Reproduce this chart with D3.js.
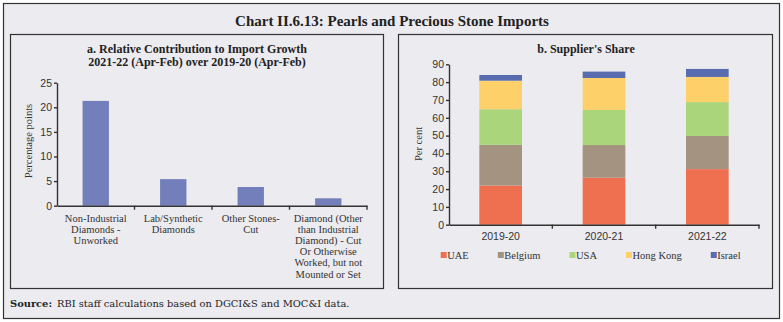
<!DOCTYPE html>
<html>
<head>
<meta charset="utf-8">
<script src="https://cdn.jsdelivr.net/npm/d3@7"></script>
<style>
    body { margin: 0; background: #fff; }
    svg { display: block; font-family: 'Liberation Serif', 'Times New Roman', serif; }
    .tick text { fill: #333; font-size: 10.5px; }
    .axis .domain, .axis .tick line { stroke: #333; stroke-width: 1.4; }
</style>
</head>
<body>
<svg id="chart"></svg>
<script>
'use strict';

// a. Relative contribution to import growth (percentage points)
const categoriesA = [
    'Non-Industrial\nDiamonds -\nUnworked',
    'Lab/Synthetic\nDiamonds',
    'Other Stones-\nCut',
    'Diamond (Other\nthan Industrial\nDiamond) - Cut\nOr Otherwise\nWorked, but not\nMounted or Set'
];
const valuesA = [21.3, 5.4, 3.8, 1.5];
const ticksA = [0, 5, 10, 15, 20, 25];

// b. Supplier's share (per cent)
const years = ['2019-20', '2020-21', '2021-22'];
const suppliers = ['UAE', 'Belgium', 'USA', 'Hong Kong', 'Israel'];
const uae = [22.0, 26.4, 31.2];
const belgium = [22.8, 18.3, 18.6];
const usa = [20.0, 19.7, 19.0];
const hongKong = [16.0, 17.9, 14.1];
const israel = [3.2, 3.6, 4.5];
const ticksB = [0, 10, 20, 30, 40, 50, 60, 70, 80, 90];

const colors = ['#ef6f51', '#a39380', '#aad57a', '#fdd06a', '#5a6cb0'];

(function() {
    const d3 = window.d3;
    const W = 783, H = 322;
    const bg = '#ebebf0';
    const svg = d3.select('#chart').attr('width', W).attr('height', H);

    // Frames
    svg.append('rect')
        .attr('x', 3.5).attr('y', 3.5).attr('width', 776).attr('height', 315)
        .attr('fill', bg).attr('stroke', '#333').attr('stroke-width', 1.2);
    svg.append('rect')
        .attr('x', 10.5).attr('y', 34.5).attr('width', 373).attr('height', 254)
        .attr('fill', bg).attr('stroke', '#333').attr('stroke-width', 1.2);
    svg.append('rect')
        .attr('x', 398.5).attr('y', 34.5).attr('width', 374).attr('height', 254)
        .attr('fill', bg).attr('stroke', '#333').attr('stroke-width', 1.2);

    svg.append('text')
        .attr('x', 392).attr('y', 25.5)
        .attr('text-anchor', 'middle')
        .attr('font-size', 15).attr('font-weight', 'bold').attr('fill', '#222')
        .text('Chart II.6.13: Pearls and Precious Stone Imports');

    const source = svg.append('text')
        .attr('x', 10).attr('y', 307)
        .attr('font-family', "'DejaVu Serif', serif")
        .attr('font-size', 9.9).attr('fill', '#222');
    source.append('tspan').attr('font-weight', 'bold').text('Source:');
    source.append('tspan').attr('x', 57).text('RBI staff calculations based on DGCI&S and MOC&I data.');

    // ---------- Panel a ----------
    const titleA = svg.append('text')
        .attr('text-anchor', 'middle').attr('font-size', 12).attr('font-weight', 'bold').attr('fill', '#222');
    titleA.append('tspan').attr('x', 197).attr('y', 53).text('a. Relative Contribution to Import Growth');
    titleA.append('tspan').attr('x', 197).attr('y', 66).text('2021-22 (Apr-Feb) over 2019-20 (Apr-Feb)');

    const xA = d3.scaleBand()
        .domain(categoriesA)
        .range([57, 367])
        .paddingInner(0.66)
        .paddingOuter(0.33);
    const yA = d3.scaleLinear().domain([0, 25]).range([205.7, 82.7]);

    const gA = svg.append('g');

    gA.selectAll('rect.bar')
        .data(valuesA)
        .enter()
        .append('rect')
        .attr('class', 'bar')
        .attr('x', (d, i) => xA(categoriesA[i]))
        .attr('y', d => yA(d))
        .attr('width', xA.bandwidth())
        .attr('height', d => yA(0) - yA(d))
        .attr('fill', '#737fba');

    gA.append('g')
        .attr('class', 'axis')
        .attr('transform', 'translate(57,0)')
        .call(d3.axisLeft(yA).tickValues(ticksA).tickSize(3).tickSizeOuter(0).tickPadding(2));

    const xAxisA = gA.append('g')
        .attr('class', 'axis')
        .attr('transform', 'translate(0,' + yA(0) + ')')
        .call(d3.axisBottom(xA).tickSize(0).tickSizeOuter(0).tickFormat(''));
    const stepA = xA.step();
    xAxisA.selectAll('line.sep')
        .data(d3.range(1, categoriesA.length + 1))
        .enter()
        .append('line')
        .attr('class', 'sep')
        .attr('x1', i => xA.range()[0] + i * stepA)
        .attr('x2', i => xA.range()[0] + i * stepA)
        .attr('y1', 0).attr('y2', 4)
        .attr('stroke', '#333').attr('stroke-width', 1.4);

    gA.selectAll('text.cat')
        .data(categoriesA)
        .enter()
        .append('text')
        .attr('class', 'cat')
        .attr('text-anchor', 'middle')
        .attr('font-size', 10.5).attr('fill', '#333')
        .each(function(d) {
            const t = d3.select(this);
            d.split('\n').forEach((line, k) => {
                t.append('tspan')
                    .attr('x', xA(d) + xA.bandwidth() / 2)
                    .attr('y', 221.5 + k * 11.2)
                    .text(line);
            });
        });

    svg.append('text')
        .attr('transform', 'translate(32,141) rotate(-90)')
        .attr('text-anchor', 'middle').attr('font-size', 10.5).attr('fill', '#333')
        .text('Percentage points');

    // ---------- Panel b ----------
    svg.append('text')
        .attr('x', 586).attr('y', 53)
        .attr('text-anchor', 'middle').attr('font-size', 12).attr('font-weight', 'bold').attr('fill', '#222')
        .text("b. Supplier's Share");

    const xB = d3.scaleBand()
        .domain(years)
        .range([449, 759])
        .paddingInner(0.587)
        .paddingOuter(0.2935);
    const yB = d3.scaleLinear().domain([0, 90]).range([224.7, 64.3]);

    const series = [uae, belgium, usa, hongKong, israel];
    const table = years.map((y, i) => {
        const row = {year: y};
        suppliers.forEach((s, j) => { row[s] = series[j][i]; });
        return row;
    });
    const stacked = d3.stack().keys(suppliers)(table);

    const gB = svg.append('g');
    gB.selectAll('g.layer')
        .data(stacked)
        .enter()
        .append('g')
        .attr('class', 'layer')
        .attr('fill', (d, i) => colors[i])
        .selectAll('rect')
        .data(d => d)
        .enter()
        .append('rect')
        .attr('x', d => xB(d.data.year))
        .attr('y', d => yB(d[1]))
        .attr('width', xB.bandwidth())
        .attr('height', d => yB(d[0]) - yB(d[1]));

    gB.append('g')
        .attr('class', 'axis')
        .attr('transform', 'translate(449,0)')
        .call(d3.axisLeft(yB).tickValues(ticksB).tickSize(3).tickSizeOuter(0).tickPadding(2));

    const xAxisB = gB.append('g')
        .attr('class', 'axis')
        .attr('transform', 'translate(0,' + yB(0) + ')')
        .call(d3.axisBottom(xB).tickSize(0).tickSizeOuter(0).tickPadding(8));
    const stepB = xB.step();
    xAxisB.selectAll('line.sep')
        .data(d3.range(1, years.length + 1))
        .enter()
        .append('line')
        .attr('class', 'sep')
        .attr('x1', i => xB.range()[0] + i * stepB)
        .attr('x2', i => xB.range()[0] + i * stepB)
        .attr('y1', 0).attr('y2', 4)
        .attr('stroke', '#333').attr('stroke-width', 1.4);

    svg.append('text')
        .attr('transform', 'translate(422,144) rotate(-90)')
        .attr('text-anchor', 'middle').attr('font-size', 10.5).attr('fill', '#333')
        .text('Per cent');

    // Legend
    let lx = 440.7;
    suppliers.forEach((s, i) => {
        svg.append('rect')
            .attr('x', lx).attr('y', 252).attr('width', 6).attr('height', 6)
            .attr('fill', colors[i]);
        const t = svg.append('text')
            .attr('x', lx + 6.5).attr('y', 258.5)
            .attr('font-size', 10.5).attr('fill', '#333')
            .text(s);
        lx += 6.5 + t.node().getComputedTextLength() + 29;
    });
}());
</script>
</body>
</html>
